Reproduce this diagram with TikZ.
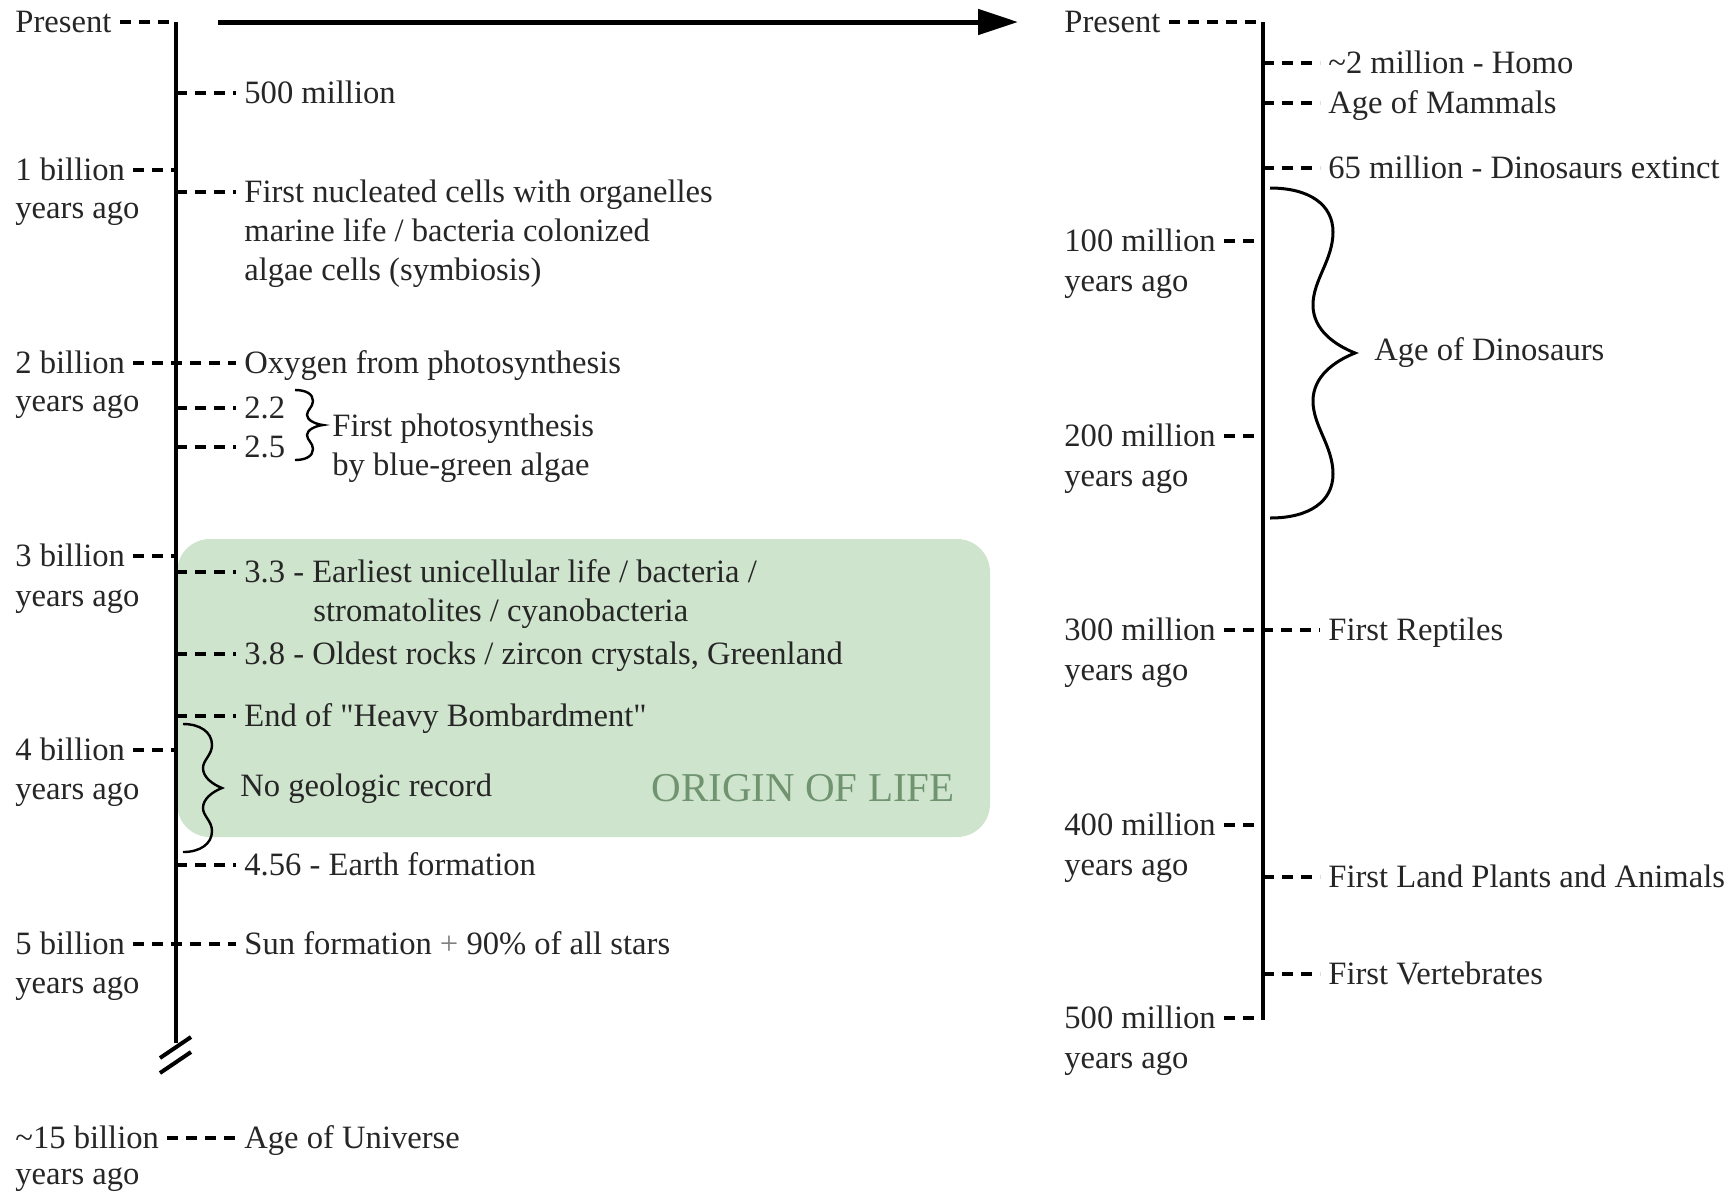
\documentclass[tikz,border=0pt]{standalone}
\usepackage{fontspec}
\setmainfont{Liberation Serif}
\usepackage{xcolor}
\usepackage{tikz}
\usetikzlibrary{arrows.meta,calc}

\definecolor{inkgray}{RGB}{38,38,38}
\definecolor{lifegreen}{RGB}{207,228,205}
\definecolor{lifetext}{RGB}{112,148,112}

\begin{document}
\begin{tikzpicture}[x=0.5pt,y=-0.5pt,
  axisline/.style={line width=2pt},
  tickline/.style={line width=2pt,dash pattern=on 5.5pt off 4pt},
  bracket/.style={line width=1.2pt},
  lbl/.style={anchor=west,text=inkgray,font=\fontsize{16.3}{19}\selectfont,inner xsep=4pt,inner ysep=1pt,text height=12.4pt,text depth=1.6pt}]
\useasboundingbox (0,0) rectangle (1736,1191);

% origin of life band
\fill[lifegreen,rounded corners=16.5pt] (177,539) rectangle (990,837);
\node[lbl,anchor=east,text=lifetext,font=\fontsize{20.5}{24}\selectfont,text height=15pt] (origin) at (963,788) {ORIGIN OF LIFE};

% left axis, billions
\coordinate (ltop) at (176,22);
\coordinate (lbot) at (176,1043);
\draw[axisline] (ltop) -- (lbot);
\draw[axisline] (160,1058) -- (191,1037);
\draw[axisline] (160,1073) -- (191,1052);

% zoom arrow
\coordinate (astart) at (218,22);
\coordinate (aend) at (1018,22);
\draw[line width=2.5pt,-{Triangle[length=20pt,width=12.5pt]}] (astart) -- (aend);

\node[lbl] (pl) at (7,22) {Present};
\node[lbl] (b1) at (7,170) {1 billion};
\node[lbl] (b1y) at (7,208) {years ago};
\node[lbl] (b2) at (7,363) {2 billion};
\node[lbl] (b2y) at (7,401) {years ago};
\node[lbl] (b3) at (7,556) {3 billion};
\node[lbl] (b3y) at (7,596) {years ago};
\node[lbl] (b4) at (7,750) {4 billion};
\node[lbl] (b4y) at (7,789) {years ago};
\node[lbl] (b5) at (7,944) {5 billion};
\node[lbl] (b5y) at (7,983) {years ago};
\node[lbl] (b15) at (7,1138) {\textasciitilde 15 billion};
\node[lbl] (b15y) at (7,1174) {years ago};

\node[lbl] (m500) at (236,93) {500 million};
\node[lbl] (nuc) at (236,192) {First nucleated cells with organelles};
\node[lbl] (nuc2) at (236,231) {marine life / bacteria colonized};
\node[lbl] (nuc3) at (236,270) {algae cells (symbiosis)};
\node[lbl] (oxy) at (236,363) {Oxygen from photosynthesis};
\node[lbl] (g22) at (236,408) {2.2};
\node[lbl] (g25) at (236,447) {2.5};
\node[lbl] (photo) at (324,426) {First photosynthesis};
\node[lbl] (photo2) at (324,465) {by blue-green algae};
\node[lbl] (uni) at (236,572) {3.3 - Earliest unicellular life / bacteria /};
\node[lbl] (uni2) at (305,611) {stromatolites / cyanobacteria};
\node[lbl] (rocks) at (236,654) {3.8 - Oldest rocks / zircon crystals, Greenland};
\node[lbl] (heavy) at (236,716) {End of \textquotedbl Heavy Bombardment\textquotedbl};
\node[lbl] (nogeo) at (232,786) {No geologic record};
\node[lbl] (earth) at (236,865) {4.56 - Earth formation};
\node[lbl] (sun) at (236,944) {Sun formation {\color{gray}+} 90\% of all stars};
\node[lbl] (univ) at (236,1138) {Age of Universe};

\draw[tickline] (pl.east) -- (ltop);
\foreach \n in {b1,b3,b4}
  \draw[tickline] (\n.east) -- (\n.east -| ltop);
\draw[tickline] (b2.east) -- (oxy.west);
\draw[tickline] (b5.east) -- (sun.west);
\draw[tickline] (b15.east) -- (univ.west);
\foreach \n in {m500,nuc,g22,g25,uni,rocks,heavy,earth}
  \draw[tickline] (\n.west -| ltop) -- (\n.west);

% braces
\draw[bracket] (295,390) .. controls (306,390) and (313,394) .. (313,401)
  .. controls (313,407) and (307,410) .. (307,415)
  .. controls (307,420) and (315,424) .. (323,425)
  .. controls (315,426) and (307,430) .. (307,435)
  .. controls (307,440) and (313,443) .. (313,449)
  .. controls (313,456) and (306,460) .. (295,460);
\draw[bracket] (183,724) .. controls (200,724) and (212,732) .. (212,745)
  .. controls (212,755) and (203,760) .. (203,768)
  .. controls (203,777) and (212,784) .. (222,788)
  .. controls (212,792) and (203,799) .. (203,808)
  .. controls (203,816) and (212,821) .. (212,831)
  .. controls (212,844) and (200,852) .. (183,852);

% right axis, millions
\coordinate (rtop) at (1263,22);
\coordinate (rbot) at (1263,1020);
\draw[axisline] (rtop) -- (rbot);

\node[lbl] (pr) at (1056,22) {Present};
\node[lbl] (r100) at (1056,241) {100 million};
\node[lbl] (r100y) at (1056,281) {years ago};
\node[lbl] (r200) at (1056,436) {200 million};
\node[lbl] (r200y) at (1056,476) {years ago};
\node[lbl] (r300) at (1056,630) {300 million};
\node[lbl] (r300y) at (1056,670) {years ago};
\node[lbl] (r400) at (1056,825) {400 million};
\node[lbl] (r400y) at (1056,865) {years ago};
\node[lbl] (r500) at (1056,1018) {500 million};
\node[lbl] (r500y) at (1056,1058) {years ago};

\node[lbl] (homo) at (1320,63) {\textasciitilde 2 million - Homo};
\node[lbl] (mamm) at (1320,103) {Age of Mammals};
\node[lbl] (ext) at (1320,168) {65 million - Dinosaurs extinct};
\node[lbl] (dino) at (1366,350) {Age of Dinosaurs};
\node[lbl] (rept) at (1320,630) {First Reptiles};
\node[lbl] (land) at (1320,877) {First Land Plants and Animals};
\node[lbl] (vert) at (1320,974) {First Vertebrates};

\draw[tickline] (pr.east) -- (rtop);
\foreach \n in {r100,r200,r400,r500}
  \draw[tickline] (\n.east) -- (\n.east -| rtop);
\draw[tickline] (r300.east) -- (rept.west);
\foreach \n in {homo,mamm,ext,land,vert}
  \draw[tickline] (\n.west -| rtop) -- (\n.west);

\draw[line width=1.5pt] (1270,188) .. controls (1310,188) and (1333,205) .. (1333,232)
  .. controls (1333,260) and (1313,280) .. (1313,305)
  .. controls (1313,330) and (1335,345) .. (1355,353)
  .. controls (1335,361) and (1313,376) .. (1313,401)
  .. controls (1313,426) and (1333,446) .. (1333,474)
  .. controls (1333,501) and (1310,518) .. (1270,518);
\end{tikzpicture}
\end{document}
